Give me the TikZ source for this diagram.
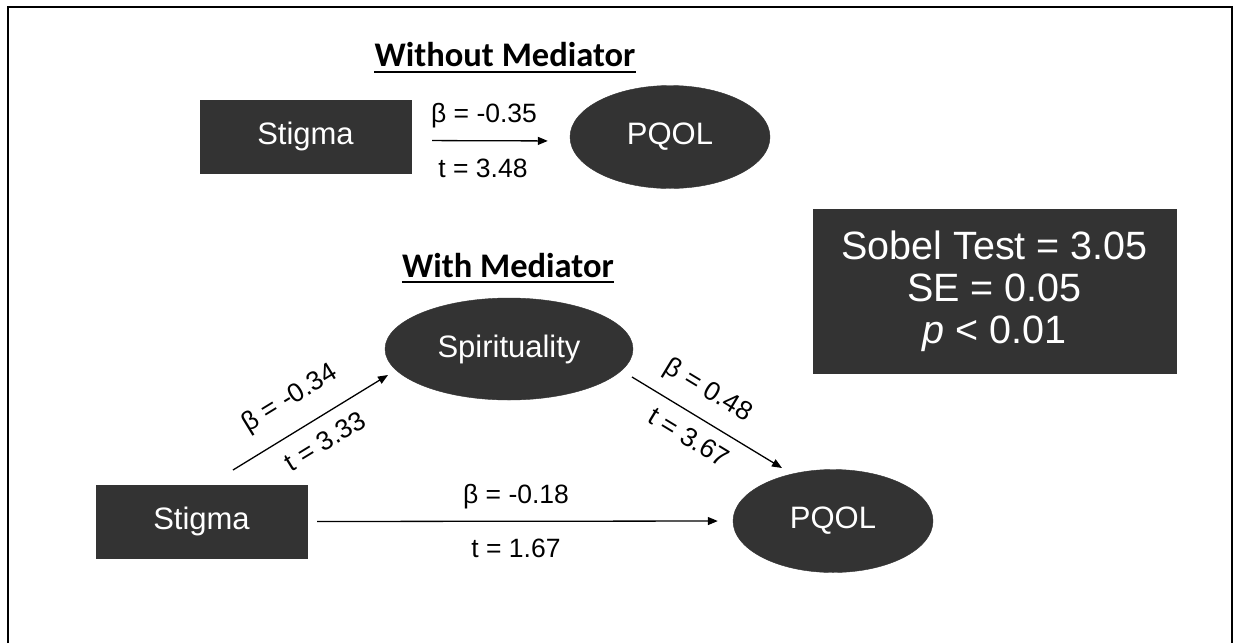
\documentclass[tikz,border=0pt]{standalone}
\usepackage{fontspec}
\setmainfont{Liberation Sans}
\newfontfamily\titlefont{Carlito}
\usetikzlibrary{shapes.geometric,arrows.meta}
\definecolor{boxgray}{RGB}{51,51,51}
\begin{document}
\begin{tikzpicture}[x=1pt,y=-1pt,
  darkbox/.style={draw=boxgray, fill=boxgray, text=white, inner sep=0pt, font=\fontsize{31}{37}\selectfont},
  rectnode/.style={darkbox, rectangle, minimum width=211pt, minimum height=73pt},
  ellnode/.style={darkbox, ellipse, minimum width=200pt, minimum height=103pt},
  lab/.style={font=\fontsize{26.5}{32}\selectfont, inner sep=0pt},
  arr/.style={-{Triangle[length=10pt,width=8pt]}, line width=1.3pt},
  titletext/.style={font=\titlefont\bfseries\fontsize{34.5}{40}\selectfont, inner sep=0pt, anchor=base},
  uline/.style={line width=2pt},
  frameline/.style={line width=2pt},
]
\useasboundingbox (0,0) rectangle (1236,643);
\fill[white] (0,0) rectangle (1236,643);
\draw[frameline] (8,643) -- (8,7) -- (1232,7) -- (1232,643);

% Without mediator
\node[titletext] (t1) at (505,66) {Without Mediator};
\draw[uline] ([yshift=-6pt]t1.base west) -- ([yshift=-6pt]t1.base east);
\node[rectnode] (s1) at (305.5,136.5) {Stigma};
\node[ellnode] (p1) at (670,137) {PQOL};
\draw[arr, shorten <=21pt, shorten >=22pt] ([yshift=-4pt]s1.east) -- ([yshift=-4pt]p1.west);
\node[lab, anchor=base] (b1) at (484,122) {β = -0.35};
\node[lab, anchor=base] (tt1) at (483,177) {t = 3.48};

% With mediator
\node[titletext] (t2) at (508,277) {With Mediator};
\draw[uline] ([yshift=-5pt]t2.base west) -- ([yshift=-5pt]t2.base east);
\node[ellnode, minimum width=248pt, minimum height=102pt] (sp) at (509,349) {Spirituality};
\node[rectnode] (s2) at (201.5,521.5) {Stigma};
\node[ellnode] (p2) at (833,521) {PQOL};

\coordinate (a1) at (233,470);
\coordinate (a2) at (388,375);
\draw[arr] (a1) -- (a2);
\coordinate (c1) at (632,377);
\coordinate (c2) at (782,468);
\draw[arr] (c1) -- (c2);
\draw[arr, shorten <=10pt, shorten >=15pt] (s2.east) -- (p2.west);

\node[lab, rotate=31.5] (bl) at (290,399) {β = -0.34};
\node[lab, rotate=31.5] (tl) at (325,441) {t = 3.33};
\node[lab, rotate=-31.2] (br) at (708,391) {β = 0.48};
\node[lab, rotate=-31.2] (tr) at (689,437) {t = 3.67};
\node[lab, anchor=base] (bm) at (516,503) {β = -0.18};
\node[lab, anchor=base] (tm) at (516,557) {t = 1.67};

% Sobel box
\node[draw=boxgray, fill=boxgray, text=white, minimum width=363pt, minimum height=164pt,
      inner sep=0pt, align=center, font=\fontsize{39.5}{42}\selectfont] (sob) at (994.5,291)
      {Sobel Test = 3.05\\SE = 0.05\\\textit{p} < 0.01};
\end{tikzpicture}
\end{document}
